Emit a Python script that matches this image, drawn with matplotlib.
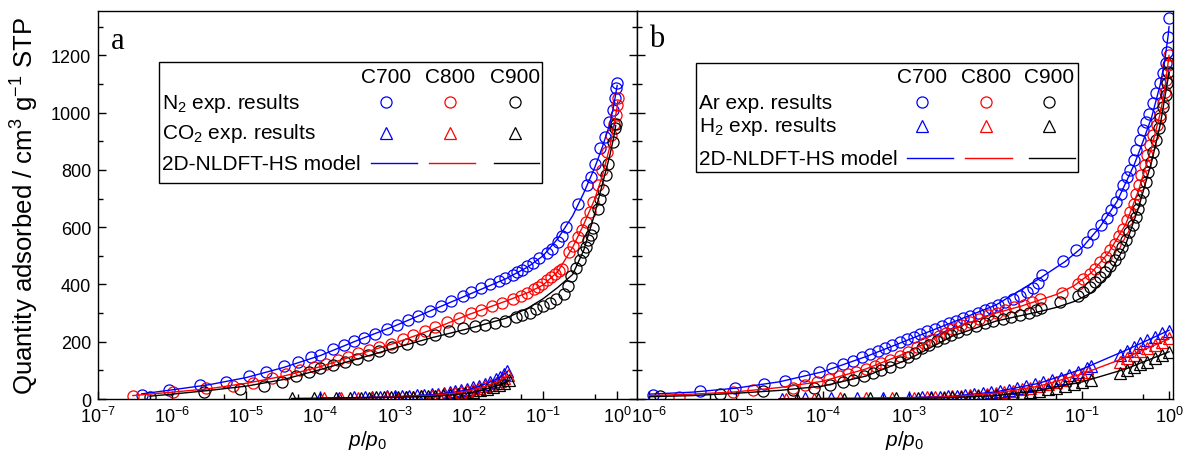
import numpy as np
import matplotlib
matplotlib.use('Agg')
import matplotlib.pyplot as plt
from matplotlib.ticker import LogLocator, MultipleLocator, NullFormatter
from matplotlib.patches import Rectangle

plt.rcParams['font.family'] = 'Liberation Sans'
plt.rcParams['mathtext.fontset'] = 'custom'
plt.rcParams['mathtext.rm'] = 'Liberation Sans'
plt.rcParams['mathtext.it'] = 'Liberation Sans:italic'
plt.rcParams['mathtext.default'] = 'regular'

samples = ['C700', 'C800', 'C900']
colors = ['#0000ff', '#ff0000', '#000000']

# ---------------- panel a : N2 / CO2 ----------------
# p/p0 given as log10 exponents, quantity in cm3/g STP
n2_logp = [
    [-6.41, -6.04, -5.63, -5.27, -4.97, -4.73, -4.49, -4.30, -4.13, -4.00, -3.83, -3.68, -3.55, -3.41,
     -3.26, -3.11, -2.97, -2.82, -2.68, -2.53, -2.38, -2.24, -2.08, -1.97, -1.83, -1.71, -1.60, -1.51,
     -1.41, -1.35, -1.28, -1.21, -1.14, -1.05, -0.95, -0.88, -0.80, -0.74, -0.69, -0.53, -0.41, -0.35,
     -0.30, -0.23, -0.17, -0.11, -0.06, -0.03, -0.015, -0.005],
    [-6.53, -5.99, -5.54, -5.18, -4.91, -4.66, -4.47, -4.27, -4.09, -3.93, -3.76, -3.63, -3.49, -3.35,
     -3.21, -3.05, -2.89, -2.75, -2.59, -2.45, -2.29, -2.13, -1.97, -1.83, -1.69, -1.55, -1.41, -1.30,
     -1.21, -1.12, -1.07, -1.02, -0.95, -0.89, -0.84, -0.79, -0.75, -0.65, -0.59, -0.53, -0.48, -0.42,
     -0.37, -0.32, -0.26, -0.21, -0.14, -0.08, -0.04, -0.01, 0.0, 0.008],
    [-6.30, -5.57, -5.08, -4.76, -4.52, -4.33, -4.16, -4.00, -3.83, -3.67, -3.51, -3.36, -3.21, -3.03,
     -2.84, -2.64, -2.45, -2.27, -2.08, -1.92, -1.78, -1.65, -1.51, -1.37, -1.28, -1.18, -1.09, -1.00,
     -0.91, -0.82, -0.72, -0.66, -0.62, -0.55, -0.50, -0.46, -0.42, -0.39, -0.35, -0.32, -0.26, -0.23,
     -0.19, -0.15, -0.12, -0.06, -0.03, -0.02],
]
n2_q = [
    [14, 33, 49, 61, 79, 96, 116, 130, 146, 155, 173, 187, 201, 213, 226, 245, 259, 276, 291, 308, 325,
     342, 360, 375, 388, 400, 411, 423, 434, 442, 452, 463, 475, 492, 509, 525, 550, 570, 601, 680, 746,
     776, 822, 875, 916, 968, 1010, 1050, 1085, 1105],
    [12, 23, 37, 47, 56, 72, 86, 100, 113, 124, 136, 147, 159, 170, 182, 193, 210, 222, 236, 250, 268,
     283, 300, 312, 324, 336, 348, 360, 371, 383, 392, 402, 415, 425, 437, 446, 455, 513, 536, 566, 589,
     618, 653, 688, 746, 799, 863, 921, 960, 991, 1026, 1050],
    [8, 26, 36, 47, 60, 80, 95, 107, 118, 130, 141, 155, 167, 182, 193, 210, 224, 236, 247, 254, 259,
     265, 273, 285, 293, 302, 314, 325, 337, 348, 365, 395, 430, 457, 484, 513, 531, 554, 572, 597, 665,
     700, 729, 781, 822, 898, 945, 962],
]
n2_fit_logp = [
    [-6.41, -6.0, -5.5, -5.0, -4.5, -4.0, -3.5, -3.0, -2.5, -2.0, -1.5, -1.2, -1.0, -0.8, -0.6, -0.45,
     -0.3, -0.2, -0.1, -0.05, -0.02, 0.0],
    [-6.53, -6.0, -5.5, -5.0, -4.5, -4.0, -3.5, -3.0, -2.5, -2.0, -1.5, -1.2, -1.0, -0.8, -0.6, -0.45,
     -0.3, -0.2, -0.1, -0.05, 0.0, 0.008],
    [-6.30, -6.0, -5.5, -5.0, -4.5, -4.0, -3.5, -3.0, -2.5, -2.0, -1.5, -1.2, -1.0, -0.8, -0.6, -0.45,
     -0.3, -0.19, -0.1, -0.05, -0.02],
]
n2_fit_q = [
    [18, 32, 50, 75, 110, 152, 205, 255, 310, 365, 420, 462, 500, 560, 640, 720, 810, 880, 960, 1020, 1065, 1095],
    [12, 24, 36, 55, 80, 113, 155, 195, 242, 295, 342, 372, 398, 445, 530, 610, 700, 780, 880, 950, 1020, 1040],
    [10, 17, 30, 45, 68, 103, 140, 178, 214, 246, 282, 318, 350, 390, 435, 520, 650, 760, 850, 910, 955],
]
co2_logp = [
    [-4.0, -3.75, -3.55, -3.4, -3.3, -3.2, -3.1, -3.0, -2.9, -2.8, -2.7, -2.6, -2.5, -2.42, -2.34, -2.26,
     -2.18, -2.1, -2.02, -1.94, -1.86, -1.78, -1.71, -1.64, -1.58, -1.52, -1.48],
    [-3.95, -3.72, -3.5, -3.3, -3.1, -2.95, -2.85, -2.75, -2.65, -2.55, -2.5, -2.42, -2.34, -2.26, -2.18,
     -2.1, -2.02, -1.94, -1.86, -1.78, -1.71, -1.64, -1.58, -1.52, -1.47],
    [-4.39, -4.09, -3.79, -3.6, -3.45, -3.35, -3.25, -3.15, -3.05, -2.95, -2.85, -2.75, -2.65, -2.55,
     -2.45, -2.35, -2.25, -2.15, -2.05, -1.95, -1.85, -1.76, -1.68, -1.6, -1.53, -1.46],
]
co2_q = [
    [4, 5, 6, 7, 7, 8, 9, 10, 11, 12, 13, 15, 17, 19, 22, 25, 28, 32, 36, 41, 47, 54, 61, 69, 77, 88, 98],
    [3, 4, 5, 5, 6, 0, 7, 8, 9, 1, 12, 14, 16, 19, 22, 25, 29, 33, 38, 44, 50, 57, 64, 74, 83],
    [3, 4, 4, 5, 5, 5, 6, 6, 6, 7, 7, 8, 9, 10, 11, 13, 15, 18, 21, 25, 30, 36, 42, 49, 57, 66],
]
co2_fit_logp = [
    [-4.0, -3.5, -3.0, -2.5, -2.2, -2.0, -1.8, -1.6, -1.48],
    [-3.95, -3.5, -3.0, -2.5, -2.2, -2.0, -1.8, -1.6, -1.47],
    [-4.39, -4.0, -3.5, -3.0, -2.5, -2.2, -2.0, -1.8, -1.6, -1.46],
]
co2_fit_q = [
    [3, 5, 8, 15, 24, 33, 50, 72, 95],
    [2, 4, 7, 12, 20, 28, 42, 62, 80],
    [2, 3, 4, 6, 9, 15, 21, 32, 48, 64],
]

# ---------------- panel b : Ar / H2 ----------------
ar_logp = [
    [-5.96, -5.41, -5.01, -4.68, -4.43, -4.21, -4.04, -3.89, -3.77, -3.65, -3.55, -3.45, -3.36, -3.28,
     -3.20, -3.11, -3.03, -2.95, -2.87, -2.79, -2.70, -2.62, -2.54, -2.46, -2.38, -2.30, -2.21, -2.13,
     -2.05, -1.97, -1.89, -1.80, -1.72, -1.64, -1.57, -1.51, -1.47, -1.22, -1.07, -0.95, -0.88, -0.79,
     -0.72, -0.67, -0.61, -0.56, -0.53, -0.48, -0.45, -0.41, -0.38, -0.34, -0.30, -0.27, -0.23, -0.19,
     -0.15, -0.11, -0.07, -0.04, -0.025, -0.015, -0.005],
    [-5.66, -5.04, -4.80, -4.34, -4.20, -4.06, -3.93, -3.81, -3.71, -3.61, -3.50, -3.40, -3.32, -3.22,
     -3.11, -3.01, -2.91, -2.83, -2.75, -2.66, -2.58, -2.50, -2.40, -2.30, -2.19, -2.09, -1.99, -1.89,
     -1.79, -1.68, -1.58, -1.49, -1.24, -1.05, -0.99, -0.91, -0.86, -0.80, -0.73, -0.68, -0.62, -0.58,
     -0.53, -0.49, -0.45, -0.41, -0.38, -0.35, -0.32, -0.28, -0.25, -0.22, -0.18, -0.14, -0.11, -0.07,
     -0.05, -0.03, -0.01, 0.0],
    [-5.88, -5.18, -4.69, -4.34, -4.10, -3.91, -3.77, -3.65, -3.52, -3.42, -3.32, -3.22, -3.11, -3.01,
     -2.93, -2.85, -2.77, -2.68, -2.60, -2.52, -2.44, -2.34, -2.23, -2.13, -2.03, -1.92, -1.82, -1.72,
     -1.62, -1.54, -1.48, -1.26, -1.05, -0.99, -0.91, -0.86, -0.80, -0.74, -0.68, -0.62, -0.58, -0.54,
     -0.50, -0.46, -0.42, -0.38, -0.36, -0.33, -0.30, -0.27, -0.24, -0.21, -0.18, -0.15, -0.12, -0.10,
     -0.07, -0.04, -0.02, -0.01, 0.0],
]
ar_q = [
    [15, 27, 38, 52, 63, 80, 95, 108, 121, 134, 145, 157, 168, 178, 188, 199, 208, 218, 227, 236, 246,
     255, 264, 273, 282, 291, 301, 310, 319, 329, 339, 350, 361, 373, 388, 405, 432, 481, 519, 548, 577,
     606, 632, 659, 688, 717, 746, 776, 799, 834, 869, 904, 939, 968, 997, 1032, 1067, 1102, 1137, 1172,
     1213, 1265, 1330],
    [7, 24, 32, 40, 50, 61, 71, 79, 87, 96, 105, 117, 125, 136, 151, 165, 183, 194, 206, 221, 232, 246,
     258, 269, 281, 292, 302, 310, 321, 329, 339, 350, 371, 402, 420, 437, 455, 478, 496, 519, 542, 571,
     595, 624, 653, 682, 717, 746, 781, 816, 851, 886, 921, 956, 991, 1032, 1073, 1114, 1166, 1201],
    [9, 18, 27, 32, 40, 50, 59, 67, 79, 90, 102, 113, 131, 145, 160, 177, 188, 202, 214, 225, 235, 246,
     255, 264, 272, 279, 287, 292, 301, 310, 318, 338, 361, 373, 391, 408, 426, 443, 466, 484, 507, 531,
     554, 583, 606, 636, 665, 694, 723, 758, 793, 828, 863, 904, 945, 980, 1020, 1061, 1102, 1143, 1172],
]
ar_fit_logp = [
    [-6.0, -5.5, -5.0, -4.5, -4.0, -3.5, -3.0, -2.5, -2.0, -1.5, -1.2, -1.0, -0.8, -0.6, -0.4, -0.3,
     -0.2, -0.1, -0.05, -0.01, 0.0],
    [-6.0, -5.5, -5.0, -4.5, -4.0, -3.5, -3.0, -2.5, -2.0, -1.7, -1.5, -1.3, -1.1, -0.9, -0.7, -0.5,
     -0.35, -0.2, -0.1, -0.05, 0.0],
    [-6.0, -5.5, -5.0, -4.5, -4.0, -3.5, -3.0, -2.5, -2.0, -1.7, -1.5, -1.3, -1.1, -0.9, -0.7, -0.5,
     -0.35, -0.2, -0.1, -0.05, 0.0],
]
ar_fit_q = [
    [17, 24, 38, 60, 95, 148, 208, 268, 328, 420, 480, 530, 600, 690, 820, 900, 985, 1100, 1180, 1270, 1300],
    [12, 17, 25, 40, 62, 105, 165, 245, 300, 325, 345, 365, 395, 440, 510, 610, 730, 880, 1000, 1080, 1200],
    [8, 12, 20, 30, 45, 80, 140, 220, 272, 292, 305, 320, 340, 370, 430, 540, 670, 830, 960, 1050, 1140],
]
h2_logp = [
    [-4.47, -4.2, -3.9, -3.6, -3.3, -3.0, -2.85, -2.75, -2.65, -2.55, -2.45, -2.35, -2.25, -2.15, -2.05,
     -1.95, -1.85, -1.75, -1.65, -1.55, -1.45, -1.35, -1.25, -1.15, -1.05, -0.95, -0.90, -0.57, -0.49,
     -0.41, -0.33, -0.25, -0.16, -0.08, 0.0],
    [-4.42, -4.1, -3.8, -3.5, -3.2, -2.95, -2.8, -2.7, -2.6, -2.5, -2.4, -2.3, -2.2, -2.1, -2.0, -1.9,
     -1.8, -1.7, -1.6, -1.5, -1.4, -1.3, -1.2, -1.1, -1.0, -0.94, -0.57, -0.49, -0.41, -0.33, -0.25,
     -0.16, -0.08, 0.0],
    [-4.3, -4.05, -3.75, -3.45, -3.15, -2.9, -2.75, -2.6, -2.5, -2.4, -2.3, -2.2, -2.1, -2.0, -1.9, -1.8,
     -1.7, -1.6, -1.5, -1.4, -1.3, -1.2, -1.1, -1.0, -0.9, -0.57, -0.49, -0.41, -0.33, -0.25, -0.16,
     -0.08, 0.0],
]
h2_q = [
    [0, 2, 3, 3, 4, 5, 6, 7, 8, 10, 12, 14, 17, 20, 24, 28, 33, 38, 44, 51, 58, 66, 75, 85, 96, 107, 114,
     154, 168, 182, 195, 207, 218, 229, 237],
    [0, 1, 2, 3, 4, 5, 6, 7, 8, 9, 11, 13, 15, 18, 21, 25, 29, 34, 39, 45, 52, 59, 67, 76, 86, 93, 131,
     143, 154, 166, 177, 189, 200, 212],
    [0, 1, 1, 2, 3, 3, 4, 5, 6, 7, 8, 9, 11, 13, 15, 18, 21, 25, 29, 34, 39, 45, 52, 59, 67, 90, 101,
     113, 122, 131, 142, 154, 165],
]
h2_fit_logp = [-4.5, -3.5, -3.0, -2.5, -2.0, -1.5, -1.0, -0.5, 0.0]
h2_fit_q = [
    [1, 3, 5, 10, 25, 55, 105, 170, 240],
    [1, 2, 4, 8, 20, 45, 88, 145, 210],
    [0, 1, 2, 5, 12, 30, 60, 105, 165],
]

fig = plt.figure(figsize=(11.86, 4.6), dpi=100)
ax1 = fig.add_axes([0.0826, 0.1304, 0.4545, 0.8435])
ax2 = fig.add_axes([0.5371, 0.1304, 0.4519, 0.8435])

MS = 8
MEW = 0.9

def draw_series(ax, lp_list, q_list, marker):
    for lp, q, c in zip(lp_list, q_list, colors):
        ax.plot(10 ** np.array(lp), q, marker, ls='none', mfc='none', mec=c, ms=MS, mew=MEW)

def draw_fits(ax, lp_list, q_list):
    for lp, q, c in zip(lp_list, q_list, colors):
        ax.plot(10 ** np.array(lp), q, '-', color=c, lw=1.0)

draw_series(ax1, n2_logp, n2_q, 'o')
draw_series(ax1, co2_logp, co2_q, '^')
draw_fits(ax1, n2_fit_logp, n2_fit_q)
draw_fits(ax1, co2_fit_logp, co2_fit_q)

draw_series(ax2, ar_logp, ar_q, 'o')
draw_series(ax2, h2_logp, h2_q, '^')
draw_fits(ax2, ar_fit_logp, ar_fit_q)
draw_fits(ax2, [h2_fit_logp] * 3, h2_fit_q)

for ax in (ax1, ax2):
    ax.set_xscale('log')
    ax.set_ylim(0, 1355)
    ax.yaxis.set_major_locator(MultipleLocator(200))
    ax.yaxis.set_minor_locator(MultipleLocator(100))
    ax.xaxis.set_major_locator(LogLocator(base=10, numticks=20))
    ax.xaxis.set_minor_locator(LogLocator(base=10, subs=[5], numticks=20))
    ax.xaxis.set_minor_formatter(NullFormatter())
    ax.tick_params(which='both', direction='in', top=False, labelsize=13, width=1)
    ax.tick_params(which='major', length=6, pad=5)
    ax.tick_params(which='minor', length=3.5)
    for s in ax.spines.values():
        s.set_linewidth(1)
    ax.set_xlabel('$\\mathit{p}$/$\\mathit{p}_0$', fontsize=15)
    ax.xaxis.set_label_coords(0.5, -0.075)

ax1.set_xlim(1e-7, 1.85)
ax2.set_xlim(7.2e-7, 1.11)
ax1.tick_params(which='both', left=True, right=True)
ax2.tick_params(which='both', left=True, right=False, labelleft=False)
ax1.set_ylabel('Quantity adsorbed / cm$^3$ g$^{-1}$ STP', fontsize=18.5)
ax1.yaxis.set_label_coords(-0.105, 0.5)

ax1.text(0.024, 0.925, 'a', transform=ax1.transAxes, fontsize=22, family='Liberation Serif',
         ha='left', va='center')
ax2.text(0.022, 0.93, 'b', transform=ax2.transAxes, fontsize=22, family='Liberation Serif',
         ha='left', va='center')

def draw_key(ax, box, text_x, col_x, head_y, row_y, line_span, row_names):
    x0, y0, x1, y1 = box
    ax.add_patch(Rectangle((x0, y0), x1 - x0, y1 - y0, transform=ax.transAxes, fill=False,
                           ec='black', lw=1, zorder=5))
    for cx, name in zip(col_x, samples):
        ax.text(cx, head_y, name, transform=ax.transAxes, fontsize=15, ha='center', va='center')
    for ry, name in zip(row_y, row_names):
        ax.text(text_x, ry, name, transform=ax.transAxes, fontsize=15, ha='left', va='center')
    for cx, c in zip(col_x, colors):
        ax.plot([cx], [row_y[0]], 'o', mfc='none', mec=c, ms=MS, mew=MEW, transform=ax.transAxes)
        ax.plot([cx], [row_y[1]], '^', mfc='none', mec=c, ms=MS, mew=MEW, transform=ax.transAxes)
    for (lx0, lx1), c in zip(line_span, colors):
        ax.plot([lx0, lx1], [row_y[2], row_y[2]], '-', color=c, lw=1, transform=ax.transAxes)

draw_key(ax1, (0.113, 0.557, 0.824, 0.869), 0.119, [0.534, 0.653, 0.773], 0.832,
         [0.765, 0.686, 0.608], [(0.506, 0.591), (0.614, 0.700), (0.734, 0.819)],
         ['N$_2$ exp. results', 'CO$_2$ exp. results', '2D-NLDFT-HS model'])
draw_key(ax2, (0.110, 0.585, 0.823, 0.866), 0.116, [0.531, 0.651, 0.768], 0.832,
         [0.765, 0.704, 0.621], [(0.504, 0.590), (0.612, 0.699), (0.731, 0.818)],
         ['Ar exp. results', 'H$_2$ exp. results', '2D-NLDFT-HS model'])

fig.savefig('out.png', dpi=100)
